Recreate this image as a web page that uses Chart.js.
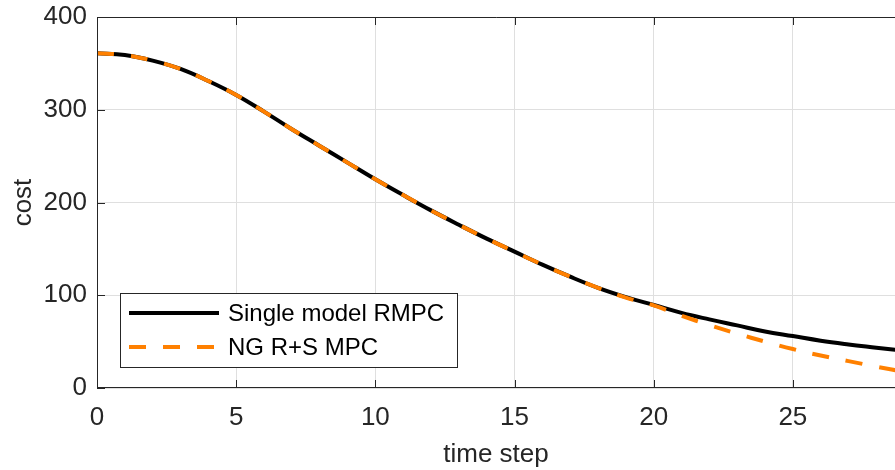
<!DOCTYPE html>
<html>
<head>
<meta charset="utf-8">
<script src="https://cdn.jsdelivr.net/npm/chart.js@4.4.0/dist/chart.umd.min.js"></script>
<style>
  html, body { margin: 0; padding: 0; background: #fff; }
  #wrap { width: 895px; height: 470px; }
</style>
</head>
<body>
<div id="wrap"><canvas id="costChart" width="895" height="470"></canvas></div>
<script>
// values
const timeSteps = [0, 1, 2, 3, 4, 5, 6, 7, 8, 9, 10, 11, 12, 13, 14, 15, 16, 17, 18, 19, 20, 21, 22, 23, 24, 25, 26, 27, 28, 29];
const singleModelCost = [361, 359, 353, 344, 331, 316, 298, 279, 261, 243, 225, 208, 191.5, 176, 161, 147, 133, 120, 108, 98, 89.5, 81, 74, 67.5, 61, 56, 51, 47, 43.5, 40];
const ngCost = [361, 359, 353, 344, 331, 316, 298, 279, 261, 243, 225, 208, 191.5, 176, 161, 147, 133, 120, 108, 97.5, 89, 78, 67.8, 58.6, 50, 42, 35, 29, 23, 17.5];
const seriesLabels = ['Single model RMPC', 'NG R+S MPC'];
const xTicks = [0, 5, 10, 15, 20, 25];
const yTicks = [0, 100, 200, 300, 400];

const FONT = '"Liberation Sans", Arial, Helvetica, sans-serif';
const AXIS_COLOR = '#262626';

function toPoints(xs, ys) {
    return xs.map((x, i) => ({ x: x, y: ys[i] }));
}

// MATLAB-style box, inward ticks and legend inside the plot
const boxPlugin = {
    id: 'boxPlugin',
    afterDatasetsDraw(chart) {
        const ctx = chart.ctx;
        const area = chart.chartArea;
        const xs = chart.scales.x;
        const ys = chart.scales.y;
        ctx.save();
        ctx.strokeStyle = AXIS_COLOR;
        ctx.lineWidth = 1;
        ctx.beginPath();
        ctx.moveTo(area.left + 0.5, area.bottom);
        ctx.lineTo(area.left + 0.5, area.top + 0.5);
        ctx.lineTo(area.right, area.top + 0.5);
        ctx.moveTo(area.left, area.bottom - 0.5);
        ctx.lineTo(area.right, area.bottom - 0.5);
        xTicks.forEach(v => {
            const px = Math.round(xs.getPixelForValue(v)) + 0.5;
            ctx.moveTo(px, area.bottom);
            ctx.lineTo(px, area.bottom - 8);
            ctx.moveTo(px, area.top);
            ctx.lineTo(px, area.top + 8);
        });
        yTicks.forEach(v => {
            const py = Math.round(ys.getPixelForValue(v)) + 0.5;
            ctx.moveTo(area.left, py);
            ctx.lineTo(area.left + 8, py);
        });
        ctx.stroke();

        // legend
        const lx = 120, ly = 293, lw = 337, lh = 74;
        ctx.fillStyle = '#fff';
        ctx.fillRect(lx, ly, lw, lh);
        ctx.strokeRect(lx + 0.5, ly + 0.5, lw, lh);
        const rows = [313, 347];
        chart.data.datasets.forEach((ds, i) => {
            ctx.beginPath();
            ctx.strokeStyle = ds.borderColor;
            ctx.lineWidth = ds.borderWidth;
            ctx.setLineDash(ds.borderDash || []);
            ctx.moveTo(129, rows[i]);
            ctx.lineTo(219, rows[i]);
            ctx.stroke();
            ctx.setLineDash([]);
            ctx.fillStyle = '#000';
            ctx.font = '24px ' + FONT;
            ctx.textBaseline = 'middle';
            ctx.fillText(ds.label, 228, rows[i] + 1);
        });
        ctx.restore();
    }
};

new Chart(document.getElementById('costChart'), {
    type: 'line',
    data: {
        datasets: [{
            label: seriesLabels[0],
            data: toPoints(timeSteps, singleModelCost),
            borderColor: '#000000',
            borderWidth: 4,
            pointRadius: 0,
            tension: 0.4,
            fill: false,
            order: 1
        }, {
            label: seriesLabels[1],
            data: toPoints(timeSteps, ngCost),
            borderColor: '#ff8000',
            borderWidth: 4,
            borderDash: [17, 17],
            pointRadius: 0,
            tension: 0.4,
            fill: false,
            order: 0
        }]
    },
    options: {
        responsive: false,
        animation: false,
        layout: { padding: { top: 17, right: 0, left: 0, bottom: 0 } },
        plugins: {
            legend: { display: false },
            tooltip: { enabled: false }
        },
        scales: {
            x: {
                type: 'linear',
                min: 0,
                max: 28.67,
                afterBuildTicks: (scale) => { scale.ticks = xTicks.map(v => ({ value: v })); },
                afterFit: (scale) => {
                    scale.height = 82;
                    scale.paddingLeft = 0;
                    scale.paddingRight = 0;
                },
                grid: { color: '#dfdfdf', lineWidth: 1, drawTicks: false },
                border: { display: false },
                ticks: {
                    color: AXIS_COLOR,
                    font: { family: FONT, size: 26 },
                    padding: 14,
                    maxRotation: 0
                },
                title: {
                    display: true,
                    text: 'time step',
                    color: AXIS_COLOR,
                    font: { family: FONT, size: 26 },
                    padding: 0
                }
            },
            y: {
                min: 0,
                max: 400,
                afterBuildTicks: (scale) => { scale.ticks = yTicks.map(v => ({ value: v })); },
                afterFit: (scale) => {
                    scale.width = 97;
                    scale.paddingTop = 0;
                    scale.paddingBottom = 0;
                },
                grid: { color: '#dfdfdf', lineWidth: 1, drawTicks: false },
                border: { display: false },
                ticks: {
                    color: AXIS_COLOR,
                    font: { family: FONT, size: 26 },
                    padding: 10
                },
                title: {
                    display: true,
                    text: 'cost',
                    color: AXIS_COLOR,
                    font: { family: FONT, size: 26 },
                    padding: { top: 8, bottom: 0 }
                }
            }
        }
    },
    plugins: [boxPlugin]
});
</script>
</body>
</html>
